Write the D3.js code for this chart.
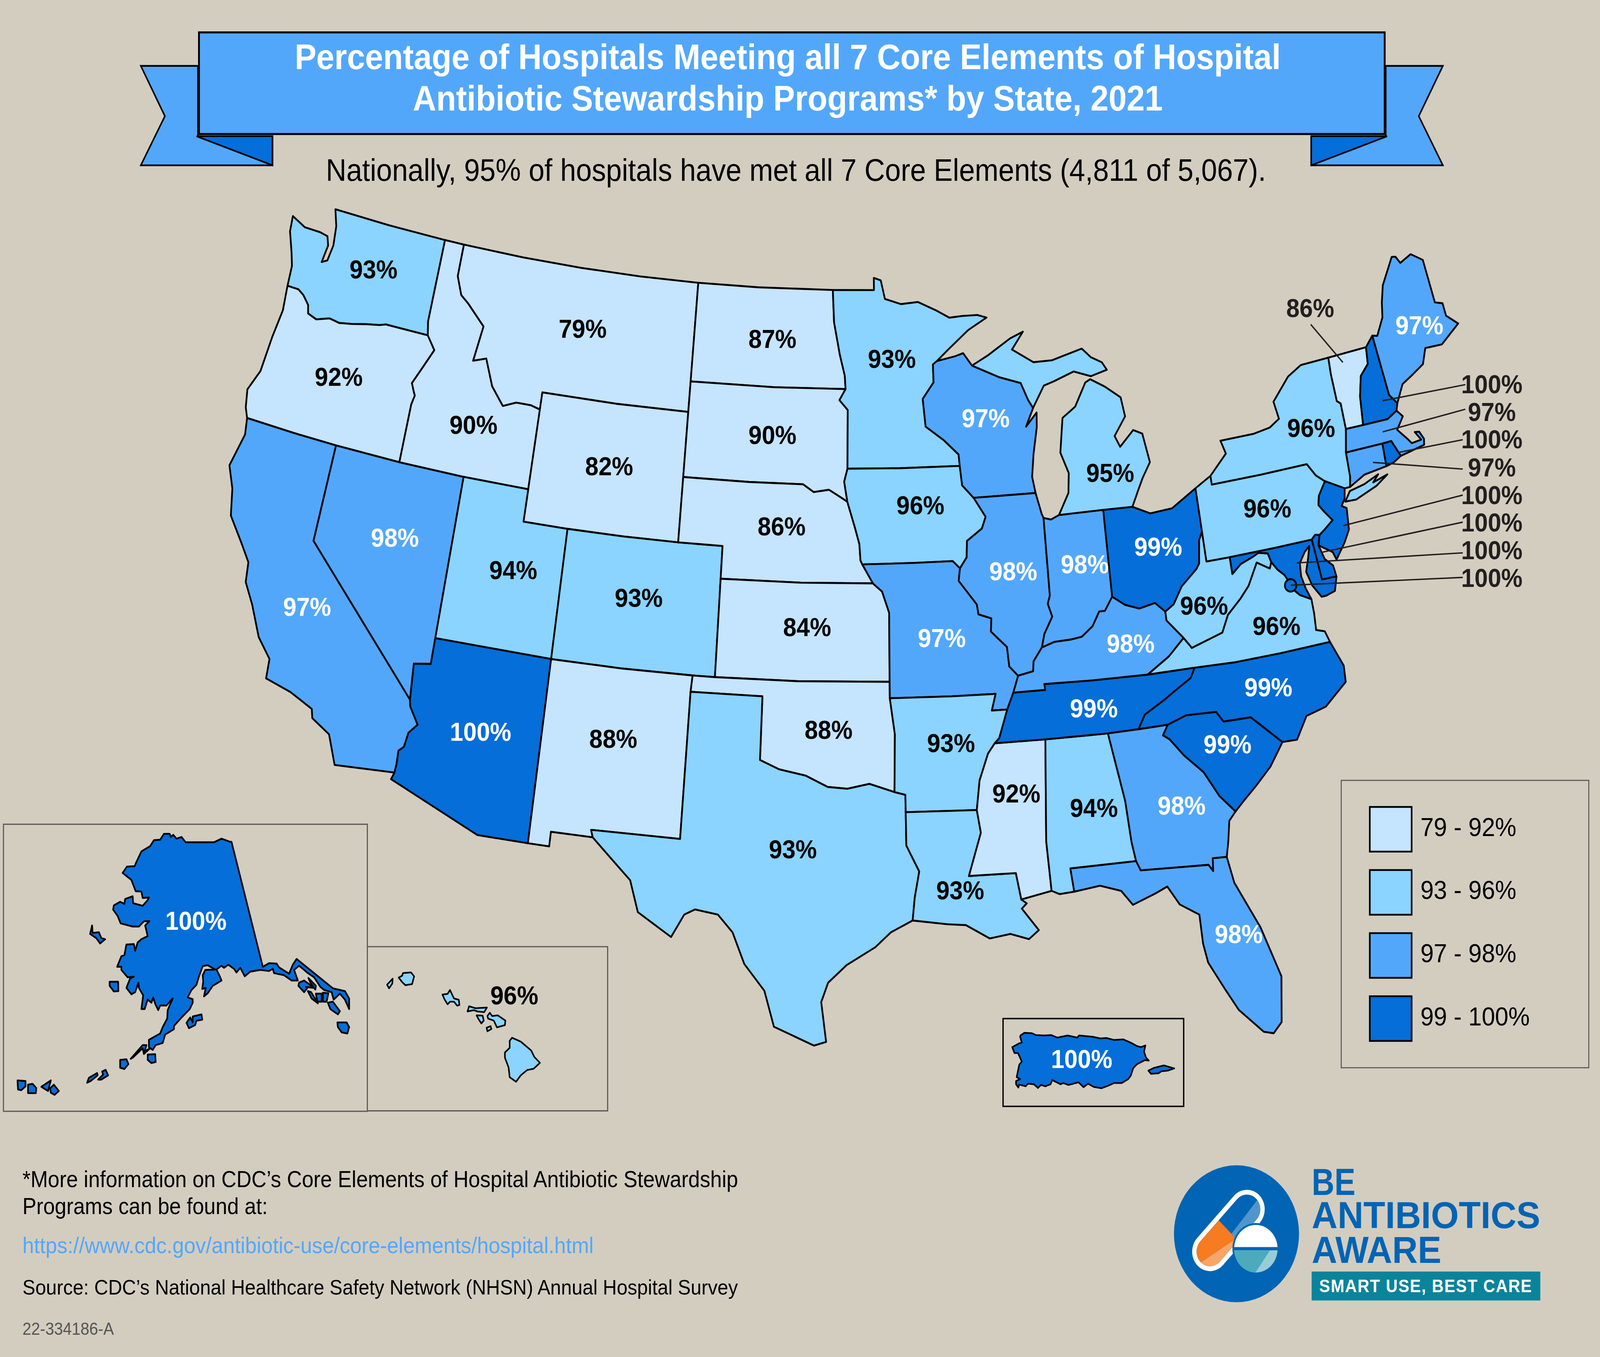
<!DOCTYPE html>
<html>
<head>
<meta charset="utf-8">
<title>Hospital Antibiotic Stewardship by State, 2021</title>
<script src="https://cdn.jsdelivr.net/npm/d3@7"></script>
<style>
  html, body { margin: 0; padding: 0; background: #D3CDC0; width: 100%; height: 100%; overflow: hidden; }
  svg { display: block; position: absolute; left: 0; top: 0; }
  text { font-family: "Liberation Sans", Arial, sans-serif; }
</style>
</head>
<body>
<svg id="chart" width="100%" height="100%" viewBox="0 0 1568 1215" preserveAspectRatio="none"></svg>
<script>
// ---- values
const stateNames = ["WA","OR","CA","NV","ID","MT","WY","UT","AZ","CO","NM","ND","SD","NE","KS","OK","TX","MN","IA","MO","AR","LA","WI","IL","MS","AL","TN","KY","IN","OH","MI","GA","FL","SC","NC","VA","WV","PA","NY","ME","VT","NH","MA","RI","CT","NJ","DE","MD","DC","AK","HI","PR"];
const stateValues = [93,92,97,98,90,79,82,94,100,93,88,87,90,86,84,88,93,93,96,97,93,93,97,98,92,94,99,98,98,99,95,98,98,99,99,96,96,96,96,97,86,100,97,100,97,100,100,100,100,100,96,100];
const legendLabels = ["79 - 92%","93 - 96%","97 - 98%","99 - 100%"];
const legendLevels = [79,93,97,99];
const binBreaks = [93,97,99];
const binColors = ["#C5E4FD","#8AD4FF","#53A7FA","#056ED8"];
const titleLines = ["Percentage of Hospitals Meeting all 7 Core Elements of Hospital","Antibiotic Stewardship Programs* by State, 2021"];

// ---- state borders, lon/lat, each shared once
const n49wa = [[-122.76,49],[-120,49],[-117.03,49]];
const n49id = [[-117.03,49],[-116.05,49]];
const n49mt = [[-116.05,49],[-113,49],[-110,49],[-107,49],[-104.05,49]];
const n49nd = [[-104.05,49],[-101,49],[-97.23,49]];
const waCoast = [[-122.76,49],[-122.5,48.5],[-122.4,47.9],[-122.5,47.4],[-122.75,47.3],[-122.65,47.85],[-122.8,48.12],[-123.2,48.17],[-124,48.17],[-124.72,48.38],[-124.65,47.9],[-124.3,47.3],[-124.1,46.9],[-124.05,46.27]];
const waOr = [[-124.05,46.27],[-123.5,46.27],[-123.2,46.15],[-122.85,45.9],[-122.75,45.65],[-122.3,45.55],[-121.7,45.7],[-121.2,45.65],[-120.6,45.73],[-119.9,45.85],[-119.3,45.93],[-119,46],[-116.92,46]];
const waId = [[-117.03,49],[-117.04,46.42],[-116.92,46]];
const orId = [[-116.92,46],[-116.47,45.6],[-116.85,45],[-117.2,44.45],[-117.05,44.23],[-116.95,44.1],[-117.03,43.8],[-117.03,42]];
const orCoast = [[-124.05,46.27],[-123.95,45.5],[-124.1,44.6],[-124.2,43.5],[-124.55,42.84],[-124.4,42.3],[-124.21,42]];
const p42a = [[-124.21,42],[-122,42],[-120,42]];
const p42b = [[-120,42],[-117.03,42]];
const p42c = [[-117.03,42],[-114.04,42]];
const p42d = [[-114.04,42],[-111.05,42]];
const caCoast = [[-124.21,42],[-124.1,41.5],[-124.4,40.45],[-124,39.8],[-123.75,39],[-123,38.3],[-122.5,37.8],[-122.4,37.2],[-121.9,36.6],[-121.3,35.7],[-120.65,35.15],[-120.6,34.55],[-119.5,34.35],[-118.5,34.02],[-118.4,33.75],[-117.6,33.4],[-117.13,32.53]];
const caNv = [[-120,42],[-120,39],[-114.63,35]];
const caAz = [[-114.63,35],[-114.57,34.8],[-114.14,34.3],[-114.45,34],[-114.53,33.55],[-114.72,33.4],[-114.7,33],[-114.72,32.72]];
const caMex = [[-117.13,32.53],[-114.72,32.72]];
const nvUt = [[-114.04,42],[-114.04,37]];
const nvAz = [[-114.04,37],[-114.04,36.2],[-114.74,36.1],[-114.63,35]];
const azUt = [[-114.04,37],[-109.05,37]];
const azNm = [[-109.05,37],[-109.05,31.33]];
const azMex = [[-114.72,32.72],[-114.81,32.5],[-111.07,31.33],[-109.05,31.33]];
const nmMex = [[-109.05,31.33],[-108.2,31.33],[-108.2,31.78],[-106.53,31.78]];
const nmTx = [[-103.04,36.5],[-103.06,32],[-106.62,32],[-106.53,31.78]];
const nmOk = [[-103,37],[-103.04,36.5]];
const nmCo = [[-109.05,37],[-106,37],[-103,37]];
const utCo = [[-109.05,41],[-109.05,37]];
const utWy = [[-111.05,42],[-111.05,41],[-109.05,41]];
const idWy = [[-111.05,44.47],[-111.05,42]];
const idMt = [[-116.05,49],[-116.05,48],[-115.7,47.45],[-115.3,47.25],[-114.35,46.65],[-114.55,45.55],[-113.95,45.7],[-113.45,44.9],[-112.8,44.37],[-112.2,44.55],[-111.5,44.55],[-111.05,44.47]];
const wyMt = [[-111.05,44.47],[-111.05,45],[-107.5,45],[-104.05,45]];
const wySd = [[-104.05,45],[-104.05,43]];
const wyNe = [[-104.05,43],[-104.05,41]];
const wyCo = [[-109.05,41],[-106.5,41],[-104.05,41]];
const coNe = [[-104.05,41],[-102.05,41],[-102.05,40]];
const coKs = [[-102.05,40],[-102.05,37]];
const coOk = [[-103,37],[-102.05,37]];
const mtNd = [[-104.05,49],[-104.05,45.94]];
const mtSd = [[-104.05,45.94],[-104.05,45]];
const ndSd = [[-104.05,45.94],[-100,45.94],[-96.56,45.94]];
const ndMn = [[-97.23,49],[-97.15,48],[-96.85,47],[-96.6,46.35],[-96.56,45.94]];
const sdMn = [[-96.56,45.94],[-96.85,45.6],[-96.45,45.3],[-96.45,43.5]];
const sdIa = [[-96.45,43.5],[-96.6,43.1],[-96.45,42.49]];
const sdNe = [[-104.05,43],[-101,43],[-98.5,43],[-98,42.77],[-97.3,42.85],[-96.7,42.6],[-96.45,42.49]];
const neIa = [[-96.45,42.49],[-96.1,41.7],[-95.9,41.2],[-95.85,40.7],[-95.77,40.58]];
const neMo = [[-95.77,40.58],[-95.3,40]];
const neKs = [[-102.05,40],[-98.5,40],[-95.3,40]];
const ksMo = [[-95.3,40],[-94.9,39.75],[-94.6,39.1],[-94.62,37]];
const ksOk = [[-102.05,37],[-98.5,37],[-94.62,37]];
const okMo = [[-94.62,37],[-94.62,36.5]];
const okAr = [[-94.62,36.5],[-94.43,35.4],[-94.48,33.64]];
const okTx = [[-103.04,36.5],[-100,36.5],[-100,34.56],[-99.2,34.3],[-98.1,34.13],[-97.2,33.8],[-96.4,33.75],[-95.5,33.9],[-94.48,33.64]];
const txAr = [[-94.48,33.64],[-94.04,33.55],[-94.04,33.02]];
const txLa = [[-94.04,33.02],[-94.04,32],[-93.55,31.2],[-93.75,30.4],[-93.85,29.7]];
const txCoast = [[-93.85,29.7],[-94.7,29.35],[-95.3,28.9],[-96.4,28.35],[-97.1,27.8],[-97.35,27.2],[-97.15,25.97]];
const rioGrande = [[-97.15,25.97],[-97.6,25.85],[-99.1,26.4],[-99.5,27.5],[-100.3,28.3],[-100.8,29.25],[-101.4,29.77],[-102.3,29.88],[-102.7,29.7],[-103.15,28.98],[-104.5,29.65],[-104.9,30.6],[-106,31.4],[-106.53,31.78]];
const mnNorth = [[-97.23,49],[-95.15,49],[-95.15,49.38],[-94.8,49.3],[-94.6,48.72],[-93.8,48.55],[-92.95,48.6],[-92,48.3],[-91.4,48.07],[-90.75,48.1],[-90,48.1],[-89.55,48]];
const mnSup = [[-89.55,48],[-90.5,47.65],[-91.5,47.1],[-92.1,46.75]];
const mnWi = [[-92.1,46.75],[-92.3,46.65],[-92.3,46.1],[-92.85,45.6],[-92.75,44.75],[-91.9,44.3],[-91.25,43.85],[-91.22,43.5]];
const mnIa = [[-96.45,43.5],[-94,43.5],[-91.22,43.5]];
const iaWi = [[-91.22,43.5],[-91.15,42.9],[-90.65,42.5]];
const iaIl = [[-90.65,42.5],[-90.15,41.9],[-90.35,41.55],[-91.05,41.2],[-91.1,40.7],[-91.42,40.38]];
const iaMo = [[-95.77,40.58],[-93.5,40.6],[-91.73,40.61],[-91.42,40.38]];
const moIl = [[-91.42,40.38],[-91.5,40],[-90.75,39.25],[-90.7,38.95],[-90.15,38.8],[-90.2,38.4],[-89.55,37.9],[-89.5,37.3],[-89.15,37]];
const moKy = [[-89.15,37],[-89.4,36.5]];
const moTn = [[-89.4,36.5],[-89.7,36]];
const moAr = [[-94.62,36.5],[-92,36.5],[-90.15,36.5],[-90.35,36],[-89.7,36]];
const arTn = [[-89.7,36],[-90.1,35.15],[-90.3,35]];
const arMs = [[-90.3,35],[-90.6,34.7],[-91,33.9],[-91.17,33]];
const arLa = [[-94.04,33.02],[-91.17,33]];
const laMs = [[-91.17,33],[-91.05,32.3],[-91.6,31],[-89.75,31],[-89.6,30.18]];
const laCoast = [[-89.6,30.18],[-89.4,30.05],[-89.6,29.9],[-89,29.2],[-89.4,28.95],[-90.1,29.15],[-90.9,29.05],[-91.8,29.5],[-92.5,29.55],[-93.85,29.7]];
const msCoast = [[-89.6,30.18],[-88.4,30.37]];
const msAl = [[-88.2,35],[-88.47,31.9],[-88.4,30.37]];
const tnMs = [[-90.3,35],[-88.2,35]];
const tnAl = [[-88.2,35],[-85.6,34.98]];
const tnGa = [[-85.6,34.98],[-84.32,34.99]];
const alGa = [[-85.6,34.98],[-85.18,32.87],[-85.1,31.6],[-85,31]];
const alFl = [[-87.52,30.28],[-87.6,31],[-85,31]];
const alCoast = [[-88.4,30.37],[-88.1,30.25],[-87.52,30.28]];
const gaFl = [[-85,31],[-84.86,30.7],[-82.2,30.57],[-82.05,30.36],[-82,30.75],[-81.45,30.72]];
const flCoast = [[-87.52,30.28],[-86.5,30.38],[-85.7,30.15],[-85.3,29.68],[-84.35,29.95],[-83.9,30.1],[-83.5,29.5],[-82.8,29.1],[-82.8,28.2],[-82.7,27.6],[-82.2,26.7],[-81.8,26],[-81,25.2],[-80.65,25.1],[-80.3,25.4],[-80.05,26.8],[-80.55,28.4],[-81.3,29.9],[-81.45,30.72]];
const gaCoast = [[-81.45,30.72],[-81.3,31.2],[-81.15,31.8],[-80.85,32.05]];
const savannah = [[-80.85,32.05],[-81.4,32.6],[-81.9,33.4],[-82.6,34],[-83.1,34.55],[-83.35,34.7],[-83.1,35]];
const gaNc = [[-83.1,35],[-84.32,34.99]];
const ncSc = [[-83.1,35],[-82.3,35.2],[-81.05,35.15],[-80.8,34.82],[-79.67,34.8],[-78.55,33.87]];
const scCoast = [[-78.55,33.87],[-79.2,33.2],[-79.9,32.7],[-80.5,32.3],[-80.85,32.05]];
const ncCoast = [[-78.55,33.87],[-77.95,33.85],[-77.4,34.5],[-76.55,34.65],[-75.55,35.25],[-75.5,35.75],[-75.87,36.55]];
const vaNc = [[-75.87,36.55],[-78,36.54],[-80,36.54],[-81.68,36.59]];
const tnVa = [[-83.68,36.6],[-81.68,36.59]];
const tnNc = [[-81.68,36.59],[-81.9,36.3],[-82.6,36],[-83.1,35.77],[-84,35.4],[-84.32,34.99]];
const kyTn = [[-89.4,36.5],[-88.05,36.5],[-88.07,36.68],[-86,36.64],[-83.68,36.6]];
const kyVa = [[-81.97,37.54],[-82.7,37.05],[-83.68,36.6]];
const kyWv = [[-82.6,38.42],[-82.6,38.15],[-81.97,37.54]];
const ohKy = [[-84.82,39.1],[-84.3,38.8],[-83.7,38.63],[-83,38.73],[-82.6,38.42]];
const inKy = [[-84.82,39.1],[-85.2,38.7],[-85.45,38.7],[-85.8,38.28],[-86.3,38],[-86.8,37.95],[-87.5,37.93],[-88.05,37.8]];
const ilKy = [[-88.05,37.8],[-88.45,37.4],[-88.5,37.1],[-89.15,37]];
const ilIn = [[-87.53,41.72],[-87.53,39.35],[-87.65,39.1],[-87.5,38.7],[-87.9,38.2],[-88.05,37.8]];
const ilWi = [[-90.65,42.5],[-87.8,42.5]];
const ilLake = [[-87.8,42.5],[-87.6,41.85],[-87.53,41.72]];
const inLake = [[-87.53,41.72],[-87.2,41.65],[-86.82,41.76]];
const inMi = [[-86.82,41.76],[-84.8,41.76]];
const inOh = [[-84.8,41.76],[-84.82,39.1]];
const miOh = [[-84.8,41.76],[-83.47,41.73]];
const miLower = [[-86.82,41.76],[-86.3,42.4],[-86.2,43],[-86.5,43.65],[-86.25,44.7],[-85.6,45],[-85,45.7],[-84.75,45.78],[-84.1,45.5],[-83.4,45.1],[-83.3,44.5],[-83.9,43.95],[-83.7,43.6],[-83,44.05],[-82.6,43.9],[-82.42,43],[-82.85,42.55],[-83.12,42.2],[-83.47,41.73]];
const miUpper = [[-90.4,46.55],[-89.6,46.83],[-88.45,47.3],[-87.8,47.47],[-88.4,46.95],[-87.4,46.5],[-86.5,46.5],[-85,46.75],[-84.6,46.45],[-84.1,46.25],[-83.9,46],[-84.7,45.87],[-85.5,46.08],[-86.5,45.85],[-87,45.75],[-87.6,45.1]];
const wiSup = [[-92.1,46.75],[-91.2,46.87],[-90.8,46.95],[-90.4,46.55]];
const wiMi = [[-90.4,46.55],[-89.1,46.13],[-88.1,45.9],[-87.8,45.35],[-87.6,45.1]];
const wiLake = [[-87.6,45.1],[-88,44.55],[-87.45,44.95],[-87.5,44.5],[-87.75,43.7],[-87.9,43],[-87.8,42.5]];
const ohLake = [[-80.52,41.98],[-81.7,41.5],[-82.7,41.45],[-83.47,41.73]];
const ohPa = [[-80.52,41.98],[-80.52,40.64]];
const ohWv = [[-82.6,38.42],[-82.2,38.6],[-81.75,39.1],[-81,39.55],[-80.85,39.7],[-80.7,40.4],[-80.52,40.64]];
const paLake = [[-80.52,41.98],[-79.76,42.27]];
const paNy = [[-79.76,42.27],[-79.76,42],[-77.5,42],[-75.35,42],[-75.05,41.6],[-74.7,41.36]];
const paNj = [[-75.42,39.8],[-75.1,39.95],[-74.72,40.15],[-75,40.45],[-75.2,40.7],[-75.1,40.97],[-74.7,41.36]];
const paDe = [[-75.79,39.72],[-75.6,39.84],[-75.42,39.8]];
const paMd = [[-79.48,39.72],[-77.5,39.72],[-75.79,39.72]];
const paWv = [[-80.52,40.64],[-80.52,39.72],[-79.48,39.72]];
const wvMd = [[-79.48,39.72],[-79.48,39.2],[-79.05,39.45],[-78.45,39.6],[-78.2,39.68],[-77.8,39.6],[-77.72,39.32]];
const wvVa = [[-77.72,39.32],[-77.83,39.14],[-78.35,39.4],[-78.87,38.75],[-79.3,38.42],[-79.95,38],[-80.3,37.5],[-81.68,37.2],[-81.97,37.54]];
const vaMd = [[-77.72,39.32],[-77.5,39.05],[-77.25,38.85],[-77.07,38.55],[-76.98,38.35],[-76.75,38.15],[-76.3,37.95]];
const vaCoast = [[-76.3,37.95],[-76.3,37.5],[-76.35,37],[-76,36.9],[-75.87,36.55]];
const mdOcean = [[-75.05,38.45],[-75.24,38.03],[-75.65,37.95]];
const mdBay = [[-75.65,37.95],[-75.85,37.95],[-76.15,38.35],[-76.3,38.8],[-76.1,39.2],[-75.95,39.55],[-76.2,39.4],[-76.5,39.1],[-76.55,38.7],[-76.45,38.3],[-76.3,37.95]];
const deMd = [[-75.79,39.72],[-75.69,38.46]];
const deMdS = [[-75.69,38.46],[-75.05,38.45]];
const deCoast = [[-75.42,39.8],[-75.55,39.5],[-75.4,39.05],[-75.1,38.8],[-75.05,38.45]];
const njCoast = [[-73.9,41],[-74,40.7],[-74.2,40.5],[-74,40.4],[-74.1,39.75],[-74.4,39.4],[-74.9,38.95],[-75,39.2],[-75.55,39.5],[-75.42,39.8]];
const nyNj = [[-74.7,41.36],[-73.9,41]];
const nyLake = [[-79.76,42.27],[-78.9,42.85],[-79.05,43.27],[-77.5,43.27],[-76.7,43.35],[-76.2,43.55],[-76.3,44.1],[-75.4,44.75],[-74.7,45],[-73.35,45.01]];
const nyVt = [[-73.35,45.01],[-73.4,44.5],[-73.4,43.65],[-73.25,43.55],[-73.27,42.75]];
const nyMa = [[-73.27,42.75],[-73.5,42.05]];
const nyCt = [[-73.5,42.05],[-73.55,41.3],[-73.65,41]];
const longIsland = [[-74,40.6],[-73.7,40.88],[-73,40.97],[-72.3,41.15],[-72.6,40.95],[-71.9,41.07],[-72.5,40.82],[-73.5,40.58]];
const vtNorth = [[-73.35,45.01],[-71.5,45.01]];
const vtNh = [[-71.5,45.01],[-71.6,44.5],[-72.05,44.2],[-72.3,43.6],[-72.46,42.73]];
const vtMa = [[-73.27,42.75],[-72.46,42.73]];
const nhNorth = [[-71.5,45.01],[-71.08,45.3]];
const nhMe = [[-71.08,45.3],[-70.98,43.4],[-70.7,43.08]];
const nhCoast = [[-70.82,42.87],[-70.7,43.08]];
const nhMa = [[-72.46,42.73],[-71.3,42.7],[-70.82,42.87]];
const meOuter = [[-71.08,45.3],[-70.85,45.25],[-70.4,45.75],[-70.25,46.2],[-70,46.7],[-69.23,47.46],[-69.05,47.43],[-68.9,47.2],[-68.3,47.36],[-67.8,47.07],[-67.79,45.7],[-67.45,45.6],[-67.45,45.2],[-67,44.85],[-68,44.4],[-68.8,44.45],[-69.1,44],[-69.8,43.75],[-70.25,43.6],[-70.7,43.08]];
const maCoast = [[-70.82,42.87],[-70.6,42.65],[-71,42.3],[-70.65,41.95],[-70.5,41.78],[-70.05,41.8],[-70.25,42.08],[-70.05,42.05],[-69.92,41.8],[-69.98,41.62],[-70.65,41.55],[-71.12,41.5]];
const maRi = [[-71.8,42.02],[-71.38,42.02],[-71.12,41.5]];
const maCt = [[-73.5,42.05],[-71.8,42.02]];
const riCoast = [[-71.12,41.5],[-71.5,41.37],[-71.86,41.32]];
const ctRi = [[-71.86,41.32],[-71.8,42.02]];
const ctCoast = [[-73.65,41],[-72.9,41.25],[-71.86,41.32]];

const r = a => a.slice().reverse();
const ring = (...parts) => parts.flat();

const lower48 = new Map([
  ["WA",[ring(n49wa,waId,r(waOr),r(waCoast))]],
  ["OR",[ring(waOr,orId,r(p42b),r(p42a),r(orCoast))]],
  ["CA",[ring(p42a,caNv,caAz,r(caMex),r(caCoast))]],
  ["NV",[ring(p42b,p42c,nvUt,nvAz,r(caNv))]],
  ["ID",[ring(n49id,idMt,idWy,r(p42d),r(p42c),r(orId),r(waId))]],
  ["MT",[ring(n49mt,mtNd,mtSd,r(wyMt),r(idMt))]],
  ["WY",[ring(wyMt,wySd,wyNe,r(wyCo),r(utWy),r(idWy))]],
  ["UT",[ring(p42d,utWy,utCo,r(azUt),r(nvUt))]],
  ["AZ",[ring(azUt,azNm,r(azMex),r(caAz),r(nvAz))]],
  ["CO",[ring(wyCo,coNe,coKs,r(coOk),r(nmCo),r(utCo))]],
  ["NM",[ring(nmCo,nmOk,nmTx,r(nmMex),r(azNm))]],
  ["ND",[ring(n49nd,ndMn,r(ndSd),r(mtNd))]],
  ["SD",[ring(ndSd,sdMn,sdIa,r(sdNe),r(wySd),r(mtSd))]],
  ["NE",[ring(sdNe,neIa,neMo,r(neKs),r(coNe),r(wyNe))]],
  ["KS",[ring(neKs,ksMo,r(ksOk),r(coKs))]],
  ["OK",[ring(coOk,ksOk,okMo,okAr,r(okTx),r(nmOk))]],
  ["TX",[ring(okTx,txAr,txLa,txCoast,rioGrande,r(nmTx))]],
  ["MN",[ring(mnNorth,mnSup,mnWi,r(mnIa),r(sdMn),r(ndMn))]],
  ["IA",[ring(mnIa,iaWi,iaIl,r(iaMo),r(neIa),r(sdIa))]],
  ["MO",[ring(iaMo,moIl,moKy,moTn,r(moAr),r(okMo),r(ksMo),r(neMo))]],
  ["AR",[ring(moAr,arTn,arMs,r(arLa),r(txAr),r(okAr))]],
  ["LA",[ring(arLa,laMs,laCoast,r(txLa))]],
  ["WI",[ring(wiSup,wiMi,wiLake,r(ilWi),r(iaWi),r(mnWi))]],
  ["IL",[ring(ilWi,ilLake,ilIn,ilKy,r(moIl),r(iaIl))]],
  ["MS",[ring(tnMs,msAl,r(msCoast),r(laMs),r(arMs))]],
  ["AL",[ring(tnAl,alGa,r(alFl),r(alCoast),r(msAl))]],
  ["TN",[ring(kyTn,tnVa,tnNc,r(tnGa),r(tnAl),r(tnMs),r(arTn),r(moTn))]],
  ["KY",[ring(ilKy,moKy,kyTn,r(kyVa),r(kyWv),r(ohKy),inKy)]],
  ["IN",[ring(inLake,inMi,inOh,inKy,r(ilIn))]],
  ["OH",[ring(miOh,r(ohLake),ohPa,r(ohWv),r(ohKy),r(inOh))]],
  ["MI",[ring(inMi,miOh,r(miLower)),ring(r(wiMi),miUpper)]],
  ["GA",[ring(tnGa,r(gaNc),r(savannah),r(gaCoast),r(gaFl),r(alGa))]],
  ["FL",[ring(alFl,gaFl,r(flCoast))]],
  ["SC",[ring(ncSc,scCoast,savannah)]],
  ["NC",[ring(r(vaNc),r(ncCoast),r(ncSc),gaNc,r(tnNc))]],
  ["VA",[ring(r(wvVa),vaMd,vaCoast,vaNc,r(tnVa),r(kyVa))]],
  ["WV",[ring(ohWv,paWv,wvMd,wvVa,r(kyWv))]],
  ["PA",[ring(paLake,paNy,r(paNj),r(paDe),r(paMd),r(paWv),r(ohPa))]],
  ["NY",[ring(nyLake,nyVt,nyMa,nyCt,r(nyNj),r(paNy)),longIsland]],
  ["ME",[ring(r(nhMe),meOuter)]],
  ["VT",[ring(vtNorth,vtNh,r(vtMa),r(nyVt))]],
  ["NH",[ring(r(vtNh),nhNorth,nhMe,r(nhCoast),r(nhMa))]],
  ["MA",[ring(vtMa,nhMa,maCoast,r(maRi),r(maCt),r(nyMa))]],
  ["RI",[ring(maRi,riCoast,ctRi)]],
  ["CT",[ring(maCt,r(ctRi),r(ctCoast),r(nyCt))]],
  ["NJ",[ring(nyNj,njCoast,paNj)]],
  ["DE",[ring(paDe,deCoast,r(deMdS),r(deMd))]],
  ["MD",[ring(paMd,deMd,deMdS,mdOcean,mdBay,r(vaMd),r(wvMd))]]
]);

// ---- inset outlines, traced on a grid of 1568 units wide
const akMain = [[925,195],[1050,785],[1075,768],[1105,770],[1115,788],[1155,818],[1170,775],[1185,748],[1330,887],[1378,900],[1395,935],[1395,985],[1378,940],[1358,912],[1333,940],[1325,905],[1295,895],[1280,880],[1255,835],[1230,815],[1195,780],[1175,800],[1190,850],[1165,850],[1135,825],[1095,815],[1090,795],[1075,805],[1040,800],[1000,808],[978,830],[960,790],[945,812],[935,795],[912,775],[895,790],[885,780],[865,798],[878,830],[885,850],[850,875],[830,910],[815,925],[822,885],[808,890],[812,855],[810,825],[820,800],[860,798],[830,778],[810,782],[795,830],[785,870],[765,895],[750,930],[770,938],[770,955],[758,985],[725,1025],[695,1065],[695,1080],[660,1105],[650,1145],[622,1155],[610,1178],[595,1165],[595,1130],[640,1100],[650,1070],[668,1030],[670,990],[690,935],[665,968],[640,968],[632,990],[620,960],[612,930],[605,955],[590,940],[578,985],[565,985],[572,920],[555,885],[553,860],[540,905],[525,915],[505,885],[520,840],[535,832],[510,835],[485,800],[485,785],[468,785],[485,735],[497,730],[505,680],[535,678],[540,710],[550,670],[565,655],[590,640],[580,590],[597,570],[575,570],[555,595],[530,595],[482,580],[470,545],[452,515],[455,495],[480,478],[497,488],[500,465],[530,452],[532,485],[570,497],[590,470],[595,458],[570,460],[565,430],[542,428],[525,375],[490,342],[507,312],[538,310],[545,290],[565,240],[600,215],[615,187],[640,185],[655,157],[678,157],[682,172],[692,162],[705,180],[725,172],[742,197],[855,197],[885,180],[920,195]];
const akIslands = [
  [[360,630],[368,590],[370,625],[395,622],[405,650],[420,655],[400,675],[385,650]],
  [[438,856],[472,856],[473,900],[455,902],[438,875]],
  [[745,1050],[760,1025],[770,1048],[770,1020],[805,1010],[808,1035],[785,1040],[780,1060],[755,1075]],
  [[522,1220],[570,1155],[585,1155],[578,1185],[600,1170],[575,1197],[570,1170],[530,1215]],
  [[590,1200],[620,1198],[622,1235],[605,1240],[590,1225]],
  [[480,1225],[505,1222],[513,1245],[497,1268],[480,1262]],
  [[348,1333],[355,1310],[388,1287],[390,1298],[362,1325]],
  [[392,1318],[412,1295],[408,1280],[422,1272],[432,1298],[405,1318]],
  [[70,1322],[102,1325],[102,1350],[85,1368],[72,1365]],
  [[112,1342],[130,1338],[145,1358],[143,1382],[112,1382]],
  [[165,1352],[203,1322],[192,1372]],
  [[200,1360],[215,1342],[235,1372],[218,1390],[203,1380]],
  [[1195,860],[1215,850],[1255,885],[1222,880],[1228,885],[1215,905],[1192,875]],
  [[1230,900],[1243,905],[1270,958],[1245,935]],
  [[1262,912],[1285,912],[1285,950],[1268,950]],
  [[1290,908],[1312,910],[1305,950],[1290,950]],
  [[1310,955],[1330,950],[1358,995],[1350,1010],[1320,985]],
  [[1232,838],[1262,875],[1260,893],[1240,860]],
  [[1348,1048],[1385,1048],[1395,1070],[1388,1100],[1365,1095],[1350,1070]]
];
const hiIslands = [
  [[145,365],[180,318],[178,355],[158,392]],
  [[218,310],[240,295],[245,275],[295,270],[315,300],[302,360],[260,368],[240,345]],
  [[493,440],[525,435],[540,405],[565,470],[595,480],[600,520],[585,525],[565,495],[540,495],[525,515],[505,475]],
  [[660,530],[700,545],[772,540],[755,575],[712,570],[690,560],[650,570]],
  [[707,600],[745,602],[752,640],[737,662],[720,630]],
  [[790,580],[805,605],[840,600],[888,640],[885,675],[835,692],[815,640],[780,625],[775,605]],
  [[770,695],[795,683],[800,705],[775,722]],
  [[930,772],[985,802],[1050,870],[1070,920],[1105,965],[1065,1010],[1025,1020],[985,1060],[955,1110],[915,1075],[908,1000],[885,925],[885,885],[915,850],[915,795]]
];
const prMain = [[225,215],[255,195],[315,198],[345,212],[410,215],[465,212],[515,232],[595,215],[670,232],[685,215],[790,225],[850,238],[900,235],[960,250],[1030,245],[1090,270],[1135,295],[1170,305],[1205,292],[1195,340],[1210,385],[1232,408],[1200,405],[1140,435],[1110,465],[1090,525],[1070,550],[1020,580],[960,580],[915,600],[860,620],[800,610],[755,585],[720,612],[680,575],[600,595],[560,580],[540,590],[475,558],[460,590],[420,605],[385,595],[362,618],[330,590],[285,585],[265,605],[215,592],[208,615],[190,590],[190,565],[222,550],[195,535],[215,440],[235,415],[205,350],[178,350],[160,305],[215,275],[235,270],[222,225]];
const prVieques = [[1228,485],[1270,465],[1350,445],[1432,468],[1380,485],[1330,490],[1310,505],[1250,510]];

// ---- layout
const svg = d3.select("#chart");
const ink = "#000", leaderInk = "#231f20";
const bg = "#D3CDC0";
const color = d3.scaleThreshold().domain(binBreaks).range(binColors);
const valueOf = new Map(stateNames.map((s, i) => [s, stateValues[i]]));

svg.append("rect").attr("width", 1568).attr("height", 1215).attr("fill", bg);

const closed = d3.line().curve(d3.curveLinearClosed);

// ---- banner
const tailL = [[138,59],[194,59],[194,122],[267,122],[267,148],[138,148],[161.6,104]];
const tailFold = [[192.7,122],[267,122],[267,148]];
const tailR = tailL.map(([x,y]) => [1552 - x, y]);
const foldR = tailFold.map(([x,y]) => [1552 - x, y]);
svg.selectAll(".tail").data([tailL, tailR]).join("path").attr("class","tail")
  .attr("d", closed).attr("fill", binColors[2]).attr("stroke", ink).attr("stroke-width", 1.5);
svg.selectAll(".fold").data([tailFold, foldR]).join("path").attr("class","fold")
  .attr("d", closed).attr("fill", binColors[3]).attr("stroke", ink).attr("stroke-width", 1.5);
svg.append("rect").attr("x",195).attr("y",29).attr("width",1162).attr("height",91)
  .attr("fill", binColors[2]).attr("stroke", ink).attr("stroke-width", 1.8);
svg.selectAll(".title").data(titleLines).join("text").attr("class","title")
  .attr("x", 772).attr("y", (d,i) => i ? 99 : 62)
  .attr("text-anchor","middle").attr("fill","#fff").attr("font-weight","bold").attr("font-size",31.8)
  .text(d => d);
svg.append("text").attr("x",780).attr("y",162).attr("text-anchor","middle").attr("font-size",27.8).attr("fill",ink)
  .text("Nationally, 95% of hospitals have met all 7 Core Elements (4,811 of 5,067).");

// ---- lower 48
const projection = d3.geoAlbers().rotate([96,0]).center([0,37.5]).parallels([29.5,45.5]).scale(1670).translate([840,596]);
const toPath = rings => rings.map(p => closed(p.map(projection))).join("");

const map = svg.append("g").attr("stroke", ink).attr("stroke-width", 1.7).attr("stroke-linejoin","round");
map.selectAll("path").data(Array.from(lower48.keys())).join("path")
  .attr("d", k => toPath(lower48.get(k)))
  .attr("fill", k => color(valueOf.get(k)));

// DC is drawn as a dot
const dc = projection([-77.07,38.5]);
map.append("circle").attr("cx", dc[0]).attr("cy", dc[1]).attr("r", 5.6).attr("fill", color(valueOf.get("DC")));

// ---- insets
function drawInset(rings, xRange, yRange, yDomain, value, sw) {
  const x = d3.scaleLinear().domain([0,1568]).range(xRange);
  const y = d3.scaleLinear().domain([0,yDomain]).range(yRange);
  svg.append("g").selectAll("path").data(rings).join("path")
    .attr("d", p => closed(p.map(([a,b]) => [x(a), y(b)])))
    .attr("fill", color(value)).attr("stroke", ink).attr("stroke-width", sw).attr("stroke-linejoin","round");
}
svg.append("rect").attr("x",3.4).attr("y",738).attr("width",356.6).attr("height",257)
  .attr("fill","none").attr("stroke","#5a5a5a").attr("stroke-width",1.1);
svg.append("path").attr("d","M360,847.6H595.5V994.6H360").attr("fill","none").attr("stroke","#5a5a5a").attr("stroke-width",1.1);
svg.append("rect").attr("x",983).attr("y",912).attr("width",177).attr("height",78.6)
  .attr("fill","none").attr("stroke",ink).attr("stroke-width",1.3);
drawInset([akMain, ...akIslands], [0,384.6], [716.8,1014], 1568, valueOf.get("AK"), 1.6);
drawInset(hiIslands, [356.7,601.4], [839.2,1007], 1440, valueOf.get("HI"), 1.5);
drawInset([prMain, prVieques], [972,1167.8], [902,996.5], 810, valueOf.get("PR"), 1.5);

// ---- percent labels on the states
const spots = {WA:[366,241],OR:[332,337],CA:[301,543],NV:[387,481],ID:[464,380],MT:[571,294],WY:[597,417],UT:[503,510],AZ:[471,655],CO:[626,535],NM:[601,661],ND:[757,303],SD:[757,389],NE:[766,471],KS:[791,561],OK:[812,653],TX:[777,760],MN:[874,321],IA:[902,452],MO:[923,571],AR:[932,665],LA:[941,797],WI:[966,374],IL:[993,511],MS:[996,710],AL:[1072,723],TN:[1072,634],KY:[1108,576],IN:[1063,505],OH:[1135,489],MI:[1088,423],GA:[1158,721],FL:[1214,836],SC:[1203,666],NC:[1243,615],VA:[1251,560],WV:[1180,542],PA:[1242,455],NY:[1285,383],ME:[1391,291],AK:[192,824],HI:[504,891],PR:[1060,948]};
svg.append("g").selectAll("text").data(Object.keys(spots)).join("text")
  .attr("x", k => spots[k][0]).attr("y", k => spots[k][1] + 8.4)
  .attr("text-anchor","middle").attr("font-weight","bold").attr("font-size",23.5)
  .attr("fill", k => valueOf.get(k) >= binBreaks[1] ? "#fff" : ink)
  .text(k => valueOf.get(k) + "%");

// ---- leader lines for the small states
const leaderStates = ["VT","NH","MA","RI","CT","NJ","DE","MD","DC"];
const leaderEnds = [[1284.5,290.5,1316,324.5],[1436,344.4,1355,358.8],[1436,366.4,1355,386.7],[1433.5,393.7,1370,405.2],[1433.5,420,1345.5,414],[1433.5,443.3,1316.5,470.6],[1433.5,467.5,1296,494.4],[1433.5,495,1271,504],[1433.5,517,1265,524]];
const leaderText = [[1284,284],[1462,352],[1462,377],[1462,401.5],[1462,426.6],[1462,451.5],[1462,476],[1462,500.7],[1462,525.6]];
const leaders = svg.append("g");
leaders.selectAll("line").data(leaderEnds).join("line")
  .attr("x1", d => d[0]).attr("y1", d => d[1]).attr("x2", d => d[2]).attr("y2", d => d[3])
  .attr("stroke", leaderInk).attr("stroke-width", 1.3);
leaders.selectAll("text").data(leaderStates).join("text")
  .attr("x", (d,i) => leaderText[i][0]).attr("y", (d,i) => leaderText[i][1])
  .attr("text-anchor","middle").attr("font-weight","bold").attr("font-size",23.5).attr("fill",leaderInk)
  .text(d => valueOf.get(d) + "%");

// ---- legend
svg.append("rect").attr("x",1314.4).attr("y",698.7).attr("width",242.6).attr("height",257.3)
  .attr("fill","none").attr("stroke","#5a5a5a").attr("stroke-width",1);
const legendY = d3.scalePoint().domain(legendLabels).range([722.5,892]);
const legend = svg.append("g").selectAll("g").data(legendLabels).join("g")
  .attr("transform", d => `translate(1342.4,${legendY(d)})`);
legend.append("rect").attr("width",41).attr("height",40)
  .attr("fill", (d,i) => color(legendLevels[i])).attr("stroke",ink).attr("stroke-width",1.6);
legend.append("text").attr("x",49.6).attr("y",26).attr("font-size",23.5).attr("fill",ink).text(d => d);

// ---- footnotes
const notes = [
  ["*More information on CDC\u2019s Core Elements of Hospital Antibiotic Stewardship",1063,20.4,ink],
  ["Programs can be found at:",1087,20.4,ink],
  ["https://www.cdc.gov/antibiotic-use/core-elements/hospital.html",1122,20.35,binColors[2]],
  ["Source: CDC\u2019s National Healthcare Safety Network (NHSN) Annual Hospital Survey",1159,18.9,ink],
  ["22-334186-A",1195,15.5,"#555"]
];
svg.append("g").selectAll("text").data(notes).join("text")
  .attr("x",22).attr("y", d => d[1]).attr("font-size", d => d[2]).attr("fill", d => d[3]).text(d => d[0]);

// ---- logo
const logoBlue = "#0264B4";
const lx = d3.scaleLinear().domain([0,1568]).range([1118.9,1538.5]);
const ly = d3.scaleLinear().domain([0,1500]).range([1014,1188.8]);
const logo = svg.append("g");
const lp = pts => closed(pts.map(([a,b]) => [lx(a), ly(b)]));
logo.append("circle").attr("cx",lx(347)).attr("cy",ly(778)).attr("r",61.3).attr("fill",logoBlue);

const capA = [lx(385),ly(590)], capB = [lx(250),ly(915)];
logo.append("line").attr("x1",capA[0]).attr("y1",capA[1]).attr("x2",capB[0]).attr("y2",capB[1])
  .attr("stroke","#fff").attr("stroke-width",35).attr("stroke-linecap","round");
function stadium(a, b, rad) {
  const dx = b[0]-a[0], dy = b[1]-a[1], len = Math.hypot(dx,dy);
  const nx = -dy/len*rad, ny = dx/len*rad;
  return `M${a[0]+nx},${a[1]+ny}A${rad},${rad} 0 0 1 ${a[0]-nx},${a[1]-ny}L${b[0]-nx},${b[1]-ny}A${rad},${rad} 0 0 1 ${b[0]+nx},${b[1]+ny}Z`;
}
const defs = svg.append("defs");
defs.append("clipPath").attr("id","capClip").append("path").attr("d", stadium(capA,capB,13.2));
defs.append("clipPath").attr("id","tabClip").append("circle").attr("cx",lx(418)).attr("cy",ly(893)).attr("r",21.3);
const caps = logo.append("g").attr("clip-path","url(#capClip)");
caps.append("rect").attr("x",lx(100)).attr("y",ly(380)).attr("width",lx(500)-lx(100)).attr("height",ly(1150)-ly(380)).attr("fill",logoBlue);
caps.append("path").attr("d", lp([[430,500],[328,780],[345,815],[520,800],[520,480]])).attr("fill","#5095CC");
caps.append("path").attr("d", lp([[280,670],[345,815],[215,1000],[100,1100],[120,700]])).attr("fill","#F77B20");
caps.append("path").attr("d", lp([[345,815],[215,1000],[200,1150],[450,1150],[450,815]])).attr("fill","#F9A566");

logo.append("circle").attr("cx",lx(418)).attr("cy",ly(893)).attr("r",23).attr("fill",logoBlue);
const tab = logo.append("g").attr("clip-path","url(#tabClip)");
tab.append("path").attr("d", lp([[320,700],[510,700],[510,880],[320,880]])).attr("fill","#fff");
tab.append("path").attr("d", lp([[320,905],[510,905],[510,1100],[320,1100]])).attr("fill","#98CDD8");
tab.append("path").attr("d", lp([[320,905],[470,905],[412,1090],[320,1100]])).attr("fill","#4CAABC");

const logoWords = [["BE",1070,42.8],["ANTIBIOTICS",1099.7,224],["AWARE",1130.6,127]];
logo.selectAll(".word").data(logoWords).join("text").attr("class","word")
  .attr("x",1285.5).attr("y", d => d[1]).attr("font-size",33.5).attr("font-weight","bold").attr("fill",logoBlue)
  .attr("textLength", d => d[2]).attr("lengthAdjust","spacingAndGlyphs").text(d => d[0]);
logo.append("rect").attr("x",1285.4).attr("y",1138.5).attr("width",224.1).attr("height",25.9).attr("fill","#0A849B");
logo.append("text").attr("x",1292.8).attr("y",1157).attr("font-size",16).attr("font-weight","bold").attr("fill","#fff")
  .attr("textLength",208.2).attr("lengthAdjust","spacing").text("SMART USE, BEST CARE");
</script>
</body>
</html>
